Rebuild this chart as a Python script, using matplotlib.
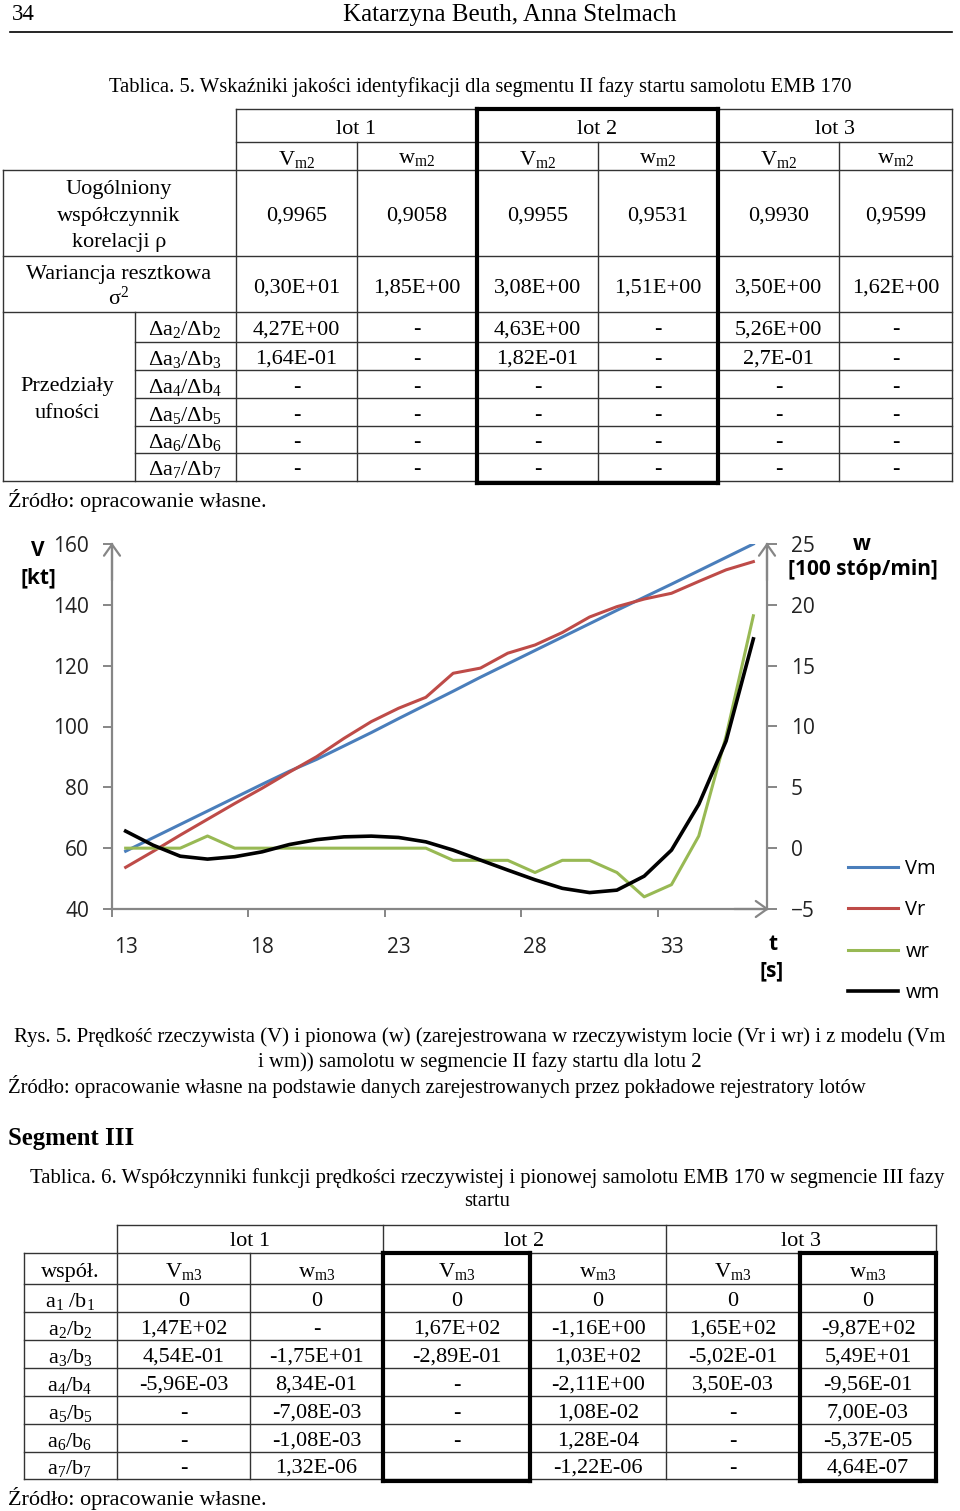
import matplotlib
matplotlib.use('Agg')
import matplotlib.pyplot as plt
from matplotlib.lines import Line2D

W, H = 960, 1511

# ---- wykres: dane ----
t_sec = [13, 14, 15, 16, 17, 18, 19, 20, 21, 22, 23, 24,
         25, 26, 27, 28, 29, 30, 31, 32, 33, 34, 35, 36]
v_m = [59.0, 63.4, 67.8, 72.2, 76.6, 81.0, 85.3, 89.2, 93.6, 98.0, 102.6, 107.1,
       111.6, 116.2, 120.6, 125.0, 129.4, 133.8, 138.2, 142.5, 146.8, 151.2, 155.6, 160.0]
v_r = [53.7, 58.9, 64.3, 69.5, 74.7, 79.7, 85.0, 90.1, 96.1, 101.6, 106.0, 109.6,
       117.5, 119.2, 124.1, 126.8, 130.9, 136.0, 139.4, 141.9, 143.8, 147.7, 151.5, 154.2]
w_r = [0, 0, 0, 1, 0, 0, 0, 0, 0, 0, 0, 0,
       -1, -1, -1, -2, -1, -1, -2, -4, -3, 1, 9.2, 19.1]
w_m = [1.4, 0.25, -0.66, -0.9, -0.7, -0.3, 0.3, 0.7, 0.93, 0.99, 0.88, 0.52,
       -0.16, -0.98, -1.8, -2.6, -3.3, -3.65, -3.45, -2.3, -0.16, 3.6, 8.8, 17.2]
x_tick_edges = [12.5, 17.5, 22.5, 27.5, 32.5]
x_tick_labels = [13, 18, 23, 28, 33]
v_ticks = [40, 60, 80, 100, 120, 140, 160]
w_ticks = [-5, 0, 5, 10, 15, 20, 25]
series_names = ['Vm', 'Vr', 'wr', 'wm']

# ---- tablica 5 ----
t5_lots = ['lot 1', 'lot 2', 'lot 3']
t5_cols = [r'$\mathrm{V_{m2}}$', r'$\mathrm{w_{m2}}$'] * 3
t5_rho = ['0,9965', '0,9058', '0,9955', '0,9531', '0,9930', '0,9599']
t5_var = ['0,30E+01', '1,85E+00', '3,08E+00', '1,51E+00', '3,50E+00', '1,62E+00']
t5_int_labels = [r'$\mathrm{Δa_2/Δb_2}$', r'$\mathrm{Δa_3/Δb_3}$', r'$\mathrm{Δa_4/Δb_4}$',
                 r'$\mathrm{Δa_5/Δb_5}$', r'$\mathrm{Δa_6/Δb_6}$', r'$\mathrm{Δa_7/Δb_7}$']
t5_int = [
    ['4,27E+00', '-', '4,63E+00', '-', '5,26E+00', '-'],
    ['1,64E-01', '-', '1,82E-01', '-', '2,7E-01', '-'],
    ['-', '-', '-', '-', '-', '-'],
    ['-', '-', '-', '-', '-', '-'],
    ['-', '-', '-', '-', '-', '-'],
    ['-', '-', '-', '-', '-', '-'],
]

# ---- tablica 6 ----
t6_cols = [r'$\mathrm{V_{m3}}$', r'$\mathrm{w_{m3}}$'] * 3
t6_row_labels = [r'$\mathrm{a_1\ /b_1}$', r'$\mathrm{a_2/b_2}$', r'$\mathrm{a_3/b_3}$',
                 r'$\mathrm{a_4/b_4}$', r'$\mathrm{a_5/b_5}$', r'$\mathrm{a_6/b_6}$',
                 r'$\mathrm{a_7/b_7}$']
t6_vals = [
    ['0', '0', '0', '0', '0', '0'],
    ['1,47E+02', '-', '1,67E+02', '-1,16E+00', '1,65E+02', '-9,87E+02'],
    ['4,54E-01', '-1,75E+01', '-2,89E-01', '1,03E+02', '-5,02E-01', '5,49E+01'],
    ['-5,96E-03', '8,34E-01', '-', '-2,11E+00', '3,50E-03', '-9,56E-01'],
    ['-', '-7,08E-03', '-', '1,08E-02', '-', '7,00E-03'],
    ['-', '-1,08E-03', '-', '1,28E-04', '-', '-5,37E-05'],
    ['-', '1,32E-06', '', '-1,22E-06', '-', '4,64E-07'],
]

plt.rcParams['mathtext.fontset'] = 'custom'
plt.rcParams['mathtext.rm'] = 'Liberation Serif'
plt.rcParams['mathtext.it'] = 'Liberation Serif:italic'
plt.rcParams['mathtext.bf'] = 'Liberation Serif:bold'

SERIF = 'Liberation Serif'
SANS = 'Open Sans'
LC = '#333333'
GRAY = '#868686'

fig = plt.figure(figsize=(W / 100, H / 100), dpi=100)


def fx(x):
    return x / W


def fy(y):
    return 1 - y / H


def txt(x, y, s, size=16, ha='center', va='center', **kw):
    # tekst w stylu dokumentu, y w pikselach od gory
    fig.text(fx(x), fy(y + 3), s, fontsize=size, ha=ha, va=va, family=SERIF, **kw)


def hl(x0, x1, y, lw=1.0, c=LC):
    fig.add_artist(Line2D([fx(x0), fx(x1)], [fy(y), fy(y)], lw=lw, color=c,
                          solid_capstyle='projecting'))


def vl(x, y0, y1, lw=1.0, c=LC):
    fig.add_artist(Line2D([fx(x), fx(x)], [fy(y0), fy(y1)], lw=lw, color=c,
                          solid_capstyle='projecting'))


def box(x0, x1, y0, y1, lw=3.0):
    hl(x0, x1, y0, lw, 'black')
    hl(x0, x1, y1, lw, 'black')
    vl(x0, y0, y1, lw, 'black')
    vl(x1, y0, y1, lw, 'black')


# naglowek strony
txt(12, 12, '34', size=16.5, ha='left')
txt(510, 12, 'Katarzyna Beuth, Anna Stelmach', size=18)
hl(10, 952, 32, lw=1.2, c='black')

# ---------------- Tablica 5 ----------------
txt(480, 84, 'Tablica. 5. Wskaźniki jakości identyfikacji dla segmentu II fazy startu samolotu EMB 170', size=14.9)

t5_x = [236, 357, 477, 598, 718, 839, 952]
t5_rows = [312, 342, 370, 398, 426, 453, 481]

hl(236, 952, 109)
hl(236, 952, 142)
for y in [170, 256, 312, 481]:
    hl(3, 952, y)
for y in t5_rows[1:-1]:
    hl(135, 952, y)
vl(3, 170, 481)
vl(135, 312, 481)
vl(236, 109, 481)
for x in [357, 598, 839]:
    vl(x, 142, 481)
vl(952, 109, 481)
vl(477, 109, 481)
vl(718, 109, 481)
box(477, 718, 109, 483)

for i, lot in enumerate(t5_lots):
    txt((t5_x[2 * i] + t5_x[2 * i + 2]) / 2, 126, lot)
for j in range(6):
    cx = (t5_x[j] + t5_x[j + 1]) / 2
    txt(cx, 156, t5_cols[j])
    txt(cx, 213, t5_rho[j])
    txt(cx, 285, t5_var[j])
    for k in range(6):
        txt(cx, (t5_rows[k] + t5_rows[k + 1]) / 2, t5_int[k][j])

txt(119, 213, 'Uogólniony\nwspółczynnik\nkorelacji ρ', linespacing=1.57)
txt(119, 271, 'Wariancja resztkowa')
txt(119, 295, r'$\mathrm{σ^2}$')
for k in range(6):
    txt(185, (t5_rows[k] + t5_rows[k + 1]) / 2, t5_int_labels[k])
txt(67, 397, 'Przedziały\nufności', linespacing=1.55)
txt(8, 497, 'Źródło: opracowanie własne.', ha='left')

# ---------------- wykres ----------------
ax = fig.add_axes([fx(112), fy(909), (767 - 112) / W, (909 - 544) / H])
ax2 = ax.twinx()
l_vm, = ax.plot(t_sec, v_m, color='#4a7ebb', lw=2.2)
l_vr, = ax.plot(t_sec, v_r, color='#be4b48', lw=2.2)
l_wr, = ax2.plot(t_sec, w_r, color='#98b954', lw=2.2)
l_wm, = ax2.plot(t_sec, w_m, color='black', lw=2.6)

ax.set_xlim(12.5, 36.5)
ax.set_ylim(40, 160)
ax2.set_ylim(-5, 25)
ax.set_yticks(v_ticks)
ax2.set_yticks(w_ticks)
ax.set_xticks(x_tick_edges)
ax.set_xticklabels([])
ax.set_xticks(x_tick_labels, minor=True)
ax.set_xticklabels([str(v) for v in x_tick_labels], minor=True)
ax.yaxis.set_minor_locator(matplotlib.ticker.NullLocator())

for a in (ax, ax2):
    for s in a.spines.values():
        s.set_visible(False)
ax.spines['left'].set_visible(True)
ax.spines['bottom'].set_visible(True)
ax2.spines['right'].set_visible(True)
for s in (ax.spines['left'], ax.spines['bottom'], ax2.spines['right']):
    s.set_color(GRAY)
    s.set_linewidth(1.6)

ax.tick_params(axis='y', direction='out', length=6.5, width=1.4, color=GRAY, pad=10,
               labelsize=15, labelfontfamily=SANS, labelcolor='#222222')
ax2.tick_params(axis='y', direction='out', length=7, width=1.4, color=GRAY, pad=10,
                labelsize=15, labelfontfamily=SANS, labelcolor='#222222')
ax.tick_params(axis='x', which='major', direction='out', length=6, width=1.4, color=GRAY)
ax.tick_params(axis='x', which='minor', length=0, pad=20, labelsize=15,
               labelfontfamily=SANS, labelcolor='#222222')

arrow = dict(arrowstyle='->,head_length=0.45,head_width=0.32', color=GRAY, lw=1.6,
             mutation_scale=18, shrinkA=0, shrinkB=0)
ax.annotate('', xy=(0, 1.004), xytext=(0, 0.9), xycoords='axes fraction', arrowprops=arrow)
ax.annotate('', xy=(1, 1.004), xytext=(1, 0.9), xycoords='axes fraction', arrowprops=arrow)
ax.annotate('', xy=(1.003, 0), xytext=(0.95, 0), xycoords='axes fraction', arrowprops=arrow)

lab = dict(fontsize=15, fontweight='bold', family=SANS, ha='center', va='center')
fig.text(fx(38), fy(550), 'V', **lab)
fig.text(fx(38), fy(578), '[kt]', **lab)
fig.text(fx(862), fy(544), 'w', **lab)
fig.text(fx(863), fy(570), '[100 stóp/min]', **lab)
fig.text(fx(773), fy(945), 't', **lab)
fig.text(fx(772), fy(971), '[s]', **lab)

fig.legend([l_vm, l_vr, l_wr, l_wm], series_names, loc='upper left',
           bbox_to_anchor=(fx(848), fy(859)), frameon=False, borderpad=0, borderaxespad=0,
           handlelength=2.5, handletextpad=0.35, labelspacing=1.06,
           prop={'family': SANS, 'size': 14.5})

# podpis rysunku
txt(14, 1034, 'Rys. 5. Prędkość rzeczywista (V) i pionowa (w) (zarejestrowana w rzeczywistym locie (Vr i wr) i z modelu (Vm',
    size=14.95, ha='left')
txt(480, 1059, 'i wm)) samolotu w segmencie II fazy startu dla lotu 2', size=14.95)
txt(8, 1084, 'Źródło: opracowanie własne na podstawie danych zarejestrowanych przez pokładowe rejestratory lotów',
    size=14.85, ha='left')

txt(8, 1136, 'Segment III', size=17.8, ha='left', fontweight='bold')

# ---------------- Tablica 6 ----------------
txt(30, 1175, 'Tablica. 6. Współczynniki funkcji prędkości rzeczywistej i pionowej samolotu EMB 170 w segmencie III fazy',
    size=14.95, ha='left')
txt(487, 1199, 'startu', size=14.95)

t6_x = [117, 250, 383, 530, 666, 800, 936]
t6_rows = [1284, 1312, 1340, 1368, 1396, 1424, 1452, 1479]

hl(117, 936, 1225)
for y in [1253] + t6_rows:
    hl(24, 936, y)
vl(24, 1253, 1479)
vl(117, 1225, 1479)
vl(250, 1253, 1479)
vl(383, 1225, 1479)
vl(530, 1253, 1479)
vl(666, 1225, 1479)
vl(800, 1253, 1479)
vl(936, 1225, 1479)
box(383, 530, 1253, 1481)
box(800, 936, 1253, 1481)

for i, lot in enumerate(t5_lots):
    txt((t6_x[2 * i] + t6_x[2 * i + 2]) / 2, 1239, lot)
txt(70, 1269, 'współ.')
for j in range(6):
    cx = (t6_x[j] + t6_x[j + 1]) / 2
    txt(cx, 1269, t6_cols[j])
    for k in range(7):
        txt(cx, (t6_rows[k] + t6_rows[k + 1]) / 2, t6_vals[k][j])
for k in range(7):
    txt(70, (t6_rows[k] + t6_rows[k + 1]) / 2, t6_row_labels[k])

txt(8, 1496, 'Źródło: opracowanie własne.', ha='left')

fig.savefig('out.png', dpi=100)
